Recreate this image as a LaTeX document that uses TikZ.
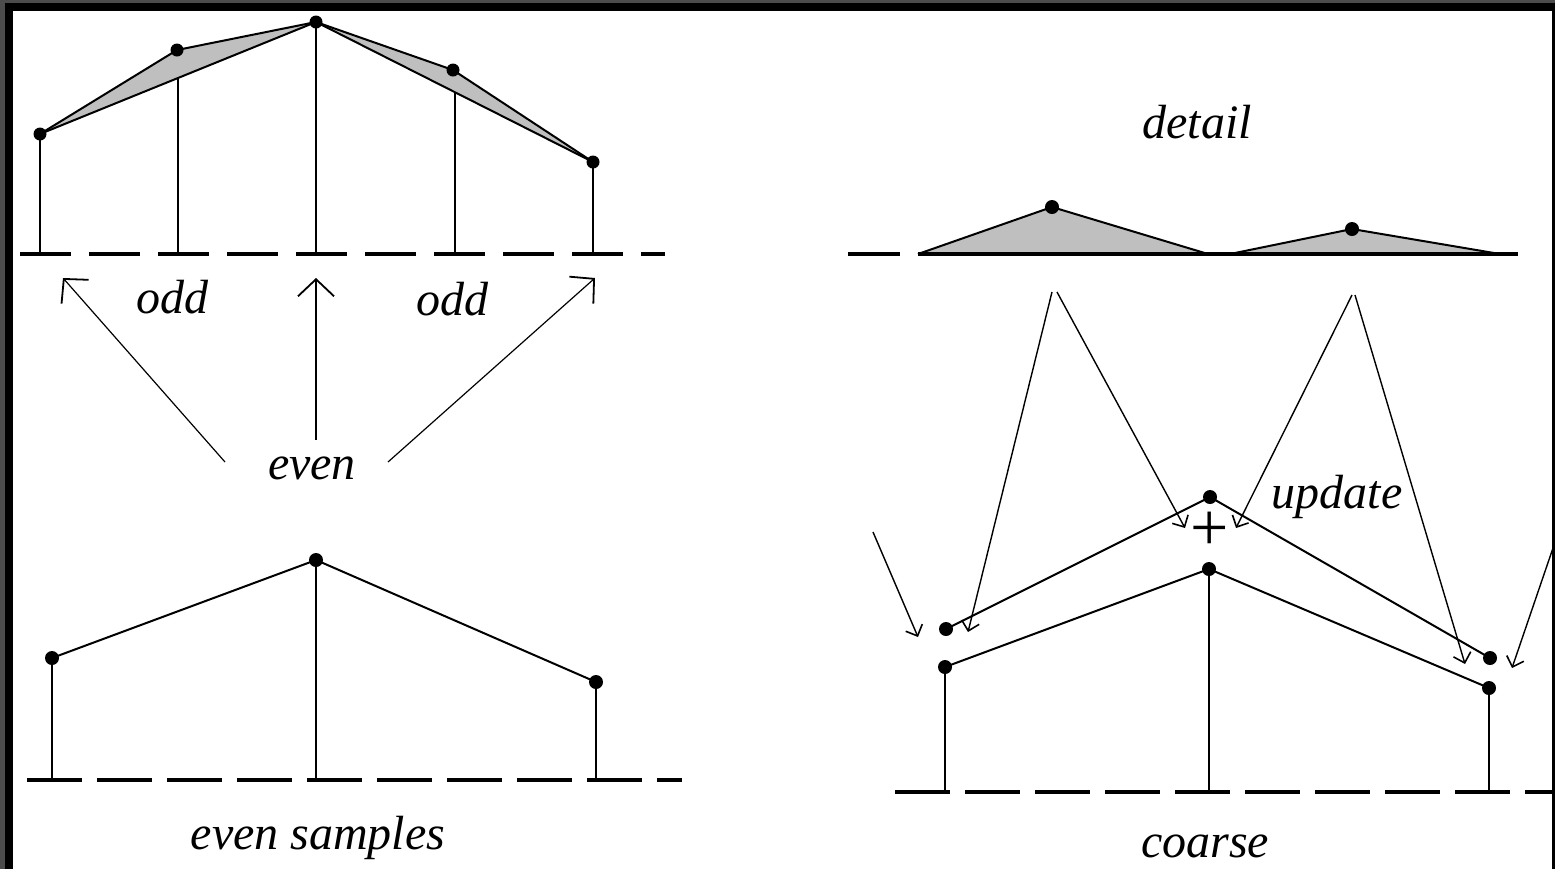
\documentclass[tikz,border=0pt]{standalone}
\usepackage{fontspec}
\setmainfont{Liberation Serif}
\usetikzlibrary{arrows.meta}
\begin{document}
\begin{tikzpicture}[x=0.5pt,y=-0.5pt,
  dot/.style={circle,fill=black,inner sep=0pt,minimum size=7pt},
  stem/.style={line width=1.2pt},
  edge/.style={line width=1pt},
  baseA/.style={line width=1.7pt,dash pattern=on 25.5pt off 9pt},
  baseB/.style={line width=1.7pt,dash pattern=on 27.5pt off 7.5pt},
  bigarrow/.style={line width=0.6pt,-{Straight Barb[length=8.5pt,width=18pt,line width=0.9pt]}},
  smallarrow/.style={line width=0.7pt,-{Straight Barb[length=4.5pt,width=9pt,line width=0.8pt]}},
  lbl/.style={font=\fontsize{24pt}{24pt}\selectfont\itshape,inner sep=0pt},
  shade/.style={fill=black!25}]
% frame
\fill[black!70] (0,0) rectangle (1555,869);
\fill[black] (5,3) rectangle (1555,869);
\fill[white] (13,11) rectangle (1552,869);
\useasboundingbox (0,0) rectangle (1555,869);

% ---------- top left: samples with odd predictions ----------
\coordinate (p0) at (40,134);
\coordinate (p1) at (177,50);
\coordinate (p2) at (316,22);
\coordinate (p3) at (453,70);
\coordinate (p4) at (593,162);
\coordinate (q1) at (178,78);
\coordinate (q3) at (455,92);
\coordinate (b0) at (40,254);
\coordinate (b1) at (178,254);
\coordinate (b2) at (316,254);
\coordinate (b3) at (455,254);
\coordinate (b4) at (593,254);
\coordinate (bAs) at (20,254);
\coordinate (bAe) at (665,254);
\fill[shade] (p0) -- (p1) -- (p2) -- cycle;
\fill[shade] (p2) -- (p3) -- (p4) -- cycle;
\draw[edge] (p0) -- (p1) -- (p2) -- (p3) -- (p4);
\draw[edge] (p0) -- (p2) -- (p4);
\draw[baseA] (bAs) -- (bAe);
\draw[stem] (p0) -- (b0);
\draw[stem] (q1) -- (b1);
\draw[stem] (p2) -- (b2);
\draw[stem] (q3) -- (b3);
\draw[stem] (p4) -- (b4);
\foreach \p in {p0,p1,p2,p3,p4} \node[dot,minimum size=6.5pt] at (\p) {};

\node[lbl] (oddL) at (172,297) {odd};
\node[lbl] (oddR) at (452,299) {odd};
\node[lbl] (even) at (312,468) {even};
\coordinate (eL) at (225,462);
\coordinate (eM) at (316,440);
\coordinate (eR) at (388,462);
\coordinate (tL) at (63,278);
\coordinate (tM) at (316,278);
\coordinate (tR) at (595,278);
\draw[bigarrow] (eL) -- (tL);
\draw[bigarrow] (eM) -- (tM);
\draw[bigarrow] (eR) -- (tR);

% ---------- bottom left: even samples ----------
\coordinate (e0) at (52,658);
\coordinate (e1) at (316,560);
\coordinate (e2) at (596,682);
\coordinate (f0) at (52,780);
\coordinate (f1) at (316,780);
\coordinate (f2) at (596,780);
\coordinate (bBs) at (27,780);
\coordinate (bBe) at (682,780);
\draw[baseB] (bBs) -- (bBe);
\draw[edge] (e0) -- (e1) -- (e2);
\draw[stem] (e0) -- (f0);
\draw[stem] (e1) -- (f1);
\draw[stem] (e2) -- (f2);
\foreach \p in {e0,e1,e2} \node[dot] at (\p) {};
\node[lbl] (evensamples) at (318,838) {even samples};

% ---------- top right: detail ----------
\node[lbl] (detail) at (1197,122) {detail};
\coordinate (d0) at (918,254);
\coordinate (dA) at (1052,207);
\coordinate (d1) at (1208,254);
\coordinate (d2) at (1230,254);
\coordinate (dB) at (1352,229);
\coordinate (d3) at (1500,254);
\coordinate (dS) at (848,254);
\coordinate (dT) at (900,254);
\coordinate (dE) at (1518,254);
\fill[shade] (d0) -- (dA) -- (d1) -- cycle;
\fill[shade] (d2) -- (dB) -- (d3) -- cycle;
\draw[edge] (d0) -- (dA) -- (d1);
\draw[edge] (d2) -- (dB) -- (d3);
\draw[line width=1.7pt] (dS) -- (dT);
\draw[line width=1.7pt] (d0) -- (dE);
\node[dot] at (dA) {};
\node[dot] at (dB) {};

% ---------- bottom right: coarse and update ----------
\coordinate (c0) at (945,667);
\coordinate (c1) at (1209,569);
\coordinate (c2) at (1489,688);
\coordinate (g0) at (945,792);
\coordinate (g1) at (1209,792);
\coordinate (g2) at (1489,792);
\coordinate (bCs) at (895,792);
\coordinate (bCe) at (1555,792);
\draw[baseB] (bCs) -- (bCe);
\draw[edge] (c0) -- (c1) -- (c2);
\draw[stem] (c0) -- (g0);
\draw[stem] (c1) -- (g1);
\draw[stem] (c2) -- (g2);
\coordinate (u0) at (946,629);
\coordinate (u1) at (1210,497);
\coordinate (u2) at (1490,658);
\draw[edge] (u0) -- (u1) -- (u2);
\foreach \p in {c0,c1,c2,u0,u1,u2} \node[dot] at (\p) {};

\node[font=\fontsize{34pt}{34pt}\selectfont,inner sep=0pt] (plus) at (1210,531) {+};
\node[lbl] (update) at (1337,497) {update};
\node[lbl] (coarse) at (1205,846) {coarse};

\coordinate (sA1) at (1052,292);
\coordinate (sA2) at (1057,292);
\coordinate (sB1) at (1352,295);
\coordinate (sB2) at (1355,295);
\coordinate (sL) at (873,532);
\coordinate (sR) at (1553,548);
\coordinate (hA1) at (968,632);
\coordinate (hA2) at (1185,528);
\coordinate (hB1) at (1236,528);
\coordinate (hB2) at (1465,664);
\coordinate (hL) at (918,637);
\coordinate (hR) at (1512,668);
\draw[smallarrow] (sA1) -- (hA1);
\draw[smallarrow] (sA2) -- (hA2);
\draw[smallarrow] (sB1) -- (hB1);
\draw[smallarrow] (sB2) -- (hB2);
\draw[smallarrow] (sL) -- (hL);
\draw[smallarrow] (sR) -- (hR);
\end{tikzpicture}
\end{document}
